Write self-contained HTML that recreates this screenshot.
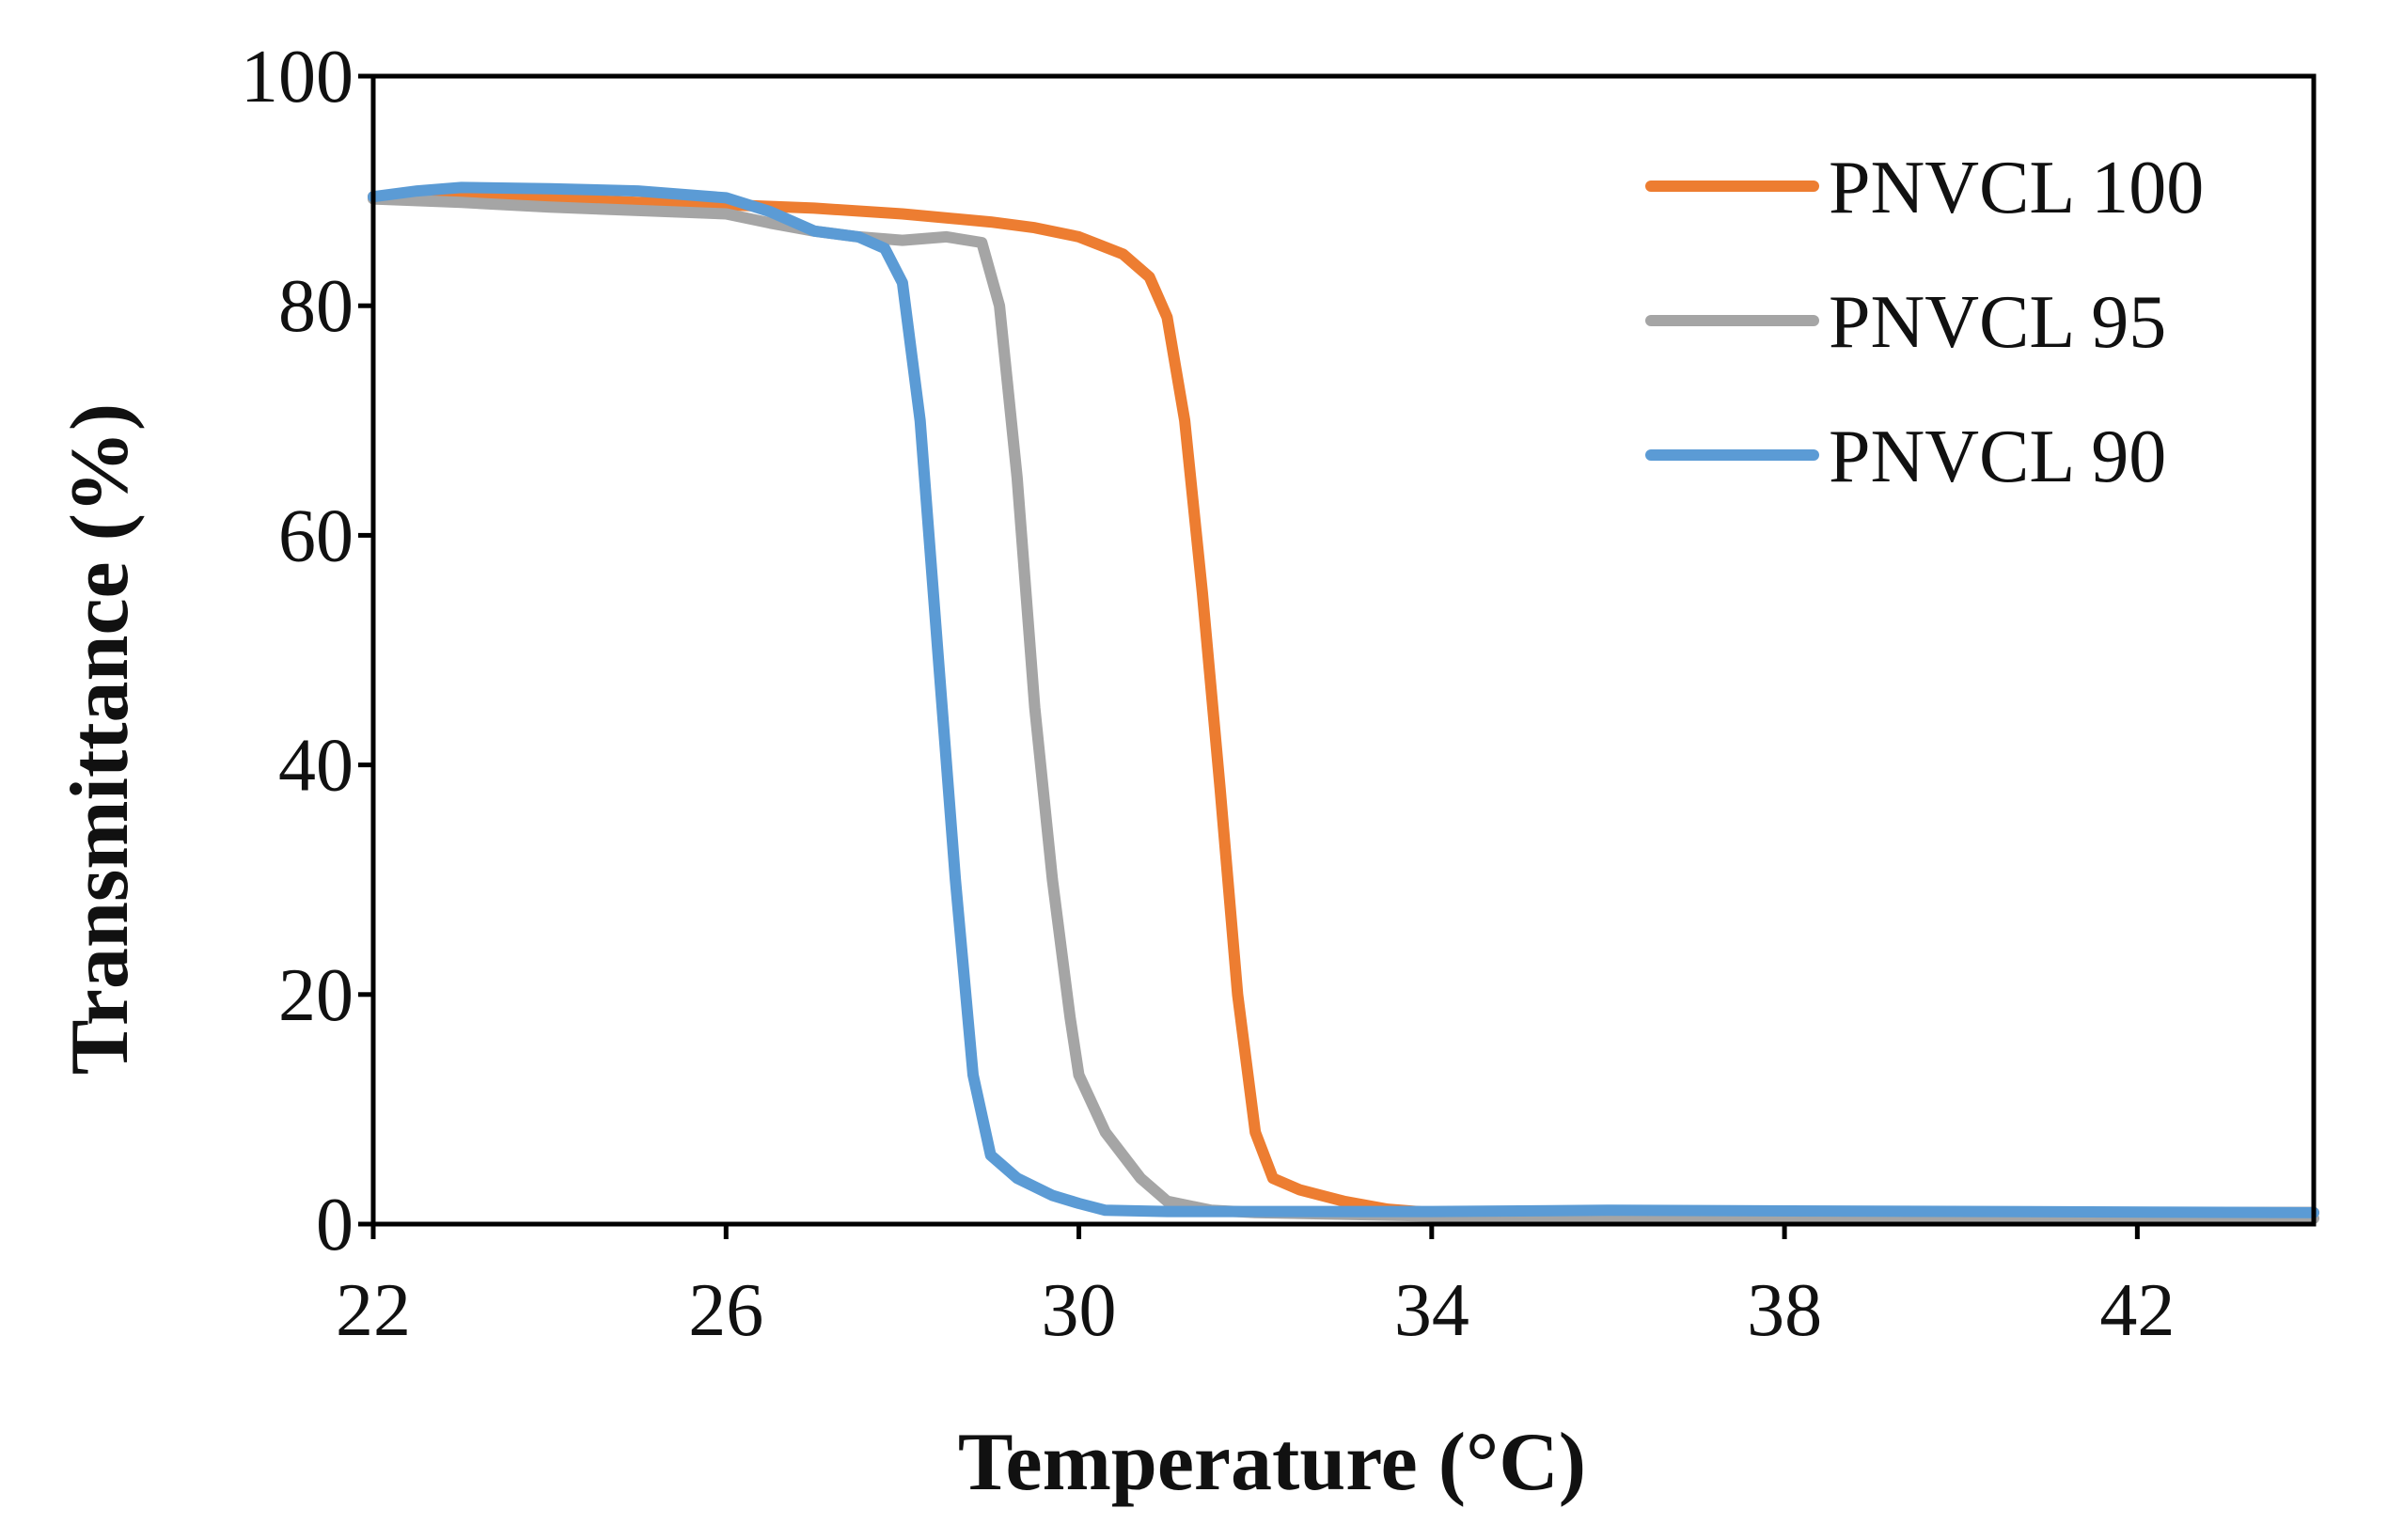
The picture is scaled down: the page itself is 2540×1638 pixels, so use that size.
<!DOCTYPE html>
<html><head><meta charset="utf-8"><style>
html,body{margin:0;padding:0;background:#fff;}
svg text{font-family:"Liberation Serif",serif;fill:#111;}
</style></head><body>
<svg id="chart" width="2540" height="1633" viewBox="0 0 2540 1633" xmlns="http://www.w3.org/2000/svg">
<g id="series"></g>
<g id="axes"></g>
<g id="legend"></g>
</svg>
<script>
const xTicks = [22, 26, 30, 34, 38, 42];
const yTicks = [0, 20, 40, 60, 80, 100];
const seriesNames = ["PNVCL 100", "PNVCL 95", "PNVCL 90"];
const seriesColors = ["#ED7D31", "#A5A5A5", "#5B9BD5"];
const x100 = [22,23,24,25,26,27,28,29,29.5,30,30.5,30.8,31,31.2,31.4,31.6,31.8,32,32.2,32.5,33,33.5,34,38,44];
const y100 = [89.5,89.5,89.3,89,88.8,88.5,88,87.3,86.8,86,84.5,82.5,79,70,55,38,20,8,4,3,2,1.3,1,1,1];
const x95 = [22,23,24,25,26,26.5,27,27.5,28,28.5,28.9,29.1,29.3,29.5,29.7,29.9,30,30.3,30.7,31,31.5,32,34,44];
const y95 = [89.3,89,88.6,88.3,88,87.2,86.5,86,85.7,86,85.5,80,65,45,30,18,13,8,4,2,1.2,1,0.7,0.5];
const x90 = [22,22.5,23,24,25,26,26.5,27,27.5,27.8,28,28.2,28.4,28.6,28.8,29,29.3,29.7,30,30.3,31,34,36,44];
const y90 = [89.5,90,90.3,90.2,90,89.4,88.2,86.5,86,85,82,70,50,30,13,6,4,2.5,1.8,1.2,1.1,1.1,1.2,1.0];

const L=397,R=2461,T=81,B=1302,xMin=22,xMax=44,yMin=0,yMax=100;
const sx=v=>L+(v-xMin)/(xMax-xMin)*(R-L);
const sy=v=>B-(v-yMin)/(yMax-yMin)*(B-T);
const NS="http://www.w3.org/2000/svg";
function mk(tag,attrs,parent){const e=document.createElementNS(NS,tag);for(const k in attrs)e.setAttribute(k,attrs[k]);parent.appendChild(e);return e;}

const sg=document.getElementById('series');
const allX=[x100,x95,x90], allY=[y100,y95,y90];
const keys=["pnvcl-100","pnvcl-95","pnvcl-90"];
for(let s=0;s<3;s++){
  const d=allX[s].map((v,i)=>(i?'L':'M')+sx(v).toFixed(1)+','+sy(allY[s][i]).toFixed(1)).join(' ');
  const p=mk('path',{d:d,fill:'none',stroke:seriesColors[s],'stroke-width':12,'stroke-linejoin':'round','stroke-linecap':'round'},sg);
  
  
}

const ag=document.getElementById('axes');
const frame=mk('rect',{x:L,y:T,width:R-L,height:B-T,fill:'none',stroke:'#000','stroke-width':5},ag);


for(const t of yTicks){
  const y=sy(t);
  const tk=mk('line',{x1:L-16,x2:L,y1:y,y2:y,stroke:'#000','stroke-width':5},ag);
  
  
  const tx=mk('text',{x:376,y:y+27,'text-anchor':'end','font-size':80},ag);
  tx.textContent=t;
  
  
}
for(const t of xTicks){
  const x=sx(t);
  const tk=mk('line',{x1:x,x2:x,y1:B,y2:B+16,stroke:'#000','stroke-width':5},ag);
  
  
  const tx=mk('text',{x:x,y:1420,'text-anchor':'middle','font-size':80},ag);
  tx.textContent=t;
  
  
}
const xt=mk('text',{x:1353,y:1584,'text-anchor':'middle','font-size':88,'font-weight':'bold'},ag);
xt.textContent='Temperature (°C)';


const yt=mk('text',{x:0,y:0,'text-anchor':'middle','font-size':88,'font-weight':'bold',transform:'translate(135,786) rotate(-90)'},ag);
yt.textContent='Transmittance (%)';



const lg=document.getElementById('legend');
for(let s=0;s<3;s++){
  const y=198+s*143;
  const ln=mk('line',{x1:1756,x2:1929,y1:y,y2:y,stroke:seriesColors[s],'stroke-width':12,'stroke-linecap':'round'},lg);
  
  
  const tx=mk('text',{x:1945,y:y+28,'font-size':80},lg);
  tx.textContent=seriesNames[s];
  
  
}
</script>
</body></html>
